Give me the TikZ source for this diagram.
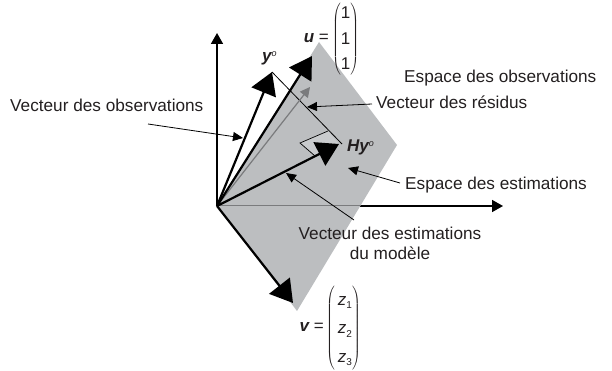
\documentclass[tikz,border=0pt]{standalone}
\usepackage{fontspec}
\setmainfont{Liberation Sans}
\usetikzlibrary{arrows.meta,positioning}
\definecolor{planegray}{HTML}{BCBEC0}
\definecolor{anglegray}{HTML}{C9CBCD}
\definecolor{textgray}{HTML}{231F20}
\newcommand{\vecbold}[1]{{\bfseries\itshape #1}}
\newcommand{\smallup}[1]{\raisebox{5pt}{\fontsize{9}{9}\selectfont\itshape #1}}
\newcommand{\zsub}[1]{\hspace{3pt}{\itshape z}\raisebox{-3.5pt}{\fontsize{10}{10}\selectfont #1}\hspace{2pt}}
\newcommand{\colvec}[4]{$\left(\vcenter{\hbox{\renewcommand{\arraystretch}{#1}\begin{tabular}{@{}c@{}}#2\\#3\\#4\end{tabular}}}\right)$}

\begin{document}
\begin{tikzpicture}[
  x=1pt, y=-1pt,
  lab/.style={inner sep=0pt, text=textgray, font=\fontsize{17.2}{20}\selectfont, align=center},
  sym/.style={inner sep=0pt, text=textgray, font=\fontsize{17}{20}\selectfont},
  axis/.style={-{Triangle[length=11pt, width=12pt]}, line width=1.7pt},
  bigvec/.style={-{Triangle[length=22pt, width=26pt]}, line width=2.2pt},
  note/.style={-{Triangle[length=10pt, width=9pt]}, line width=0.8pt}
]
\useasboundingbox (0,0) rectangle (612,371);

\coordinate (origin) at (217,206);
\coordinate (top) at (319,42);
\coordinate (right) at (397,145);
\coordinate (bottom) at (297,311);
\coordinate (xhit) at (360,206);
\coordinate (xend) at (503,206);
\coordinate (zend) at (217,33);
\coordinate (utip) at (312,56);
\coordinate (vtip) at (293,303);
\coordinate (ytip) at (272,72);
\coordinate (hytip) at (339,144);
\coordinate (gtip) at (310,87);
\coordinate (anglea) at (328,131);
\coordinate (angleb) at (300,143);
\coordinate (anglec) at (315,156);
\coordinate (footend) at (342,144);

% axes first, the plane lies over them
\draw[axis] (origin) -- (zend);
\draw[axis] (origin) -- (xend);
\fill[planegray] (origin) -- (top) -- (right) -- (bottom) -- cycle;
\draw[line width=1pt, black!35!planegray] (origin) -- (xhit);
\fill[anglegray] (anglea) -- (angleb) -- (anglec) -- (hytip) -- cycle;
\draw[line width=0.7pt] (anglea) -- (angleb) -- (anglec);
\draw[line width=0.8pt] (ytip) -- (footend);

% vectors
\draw[-{Triangle[length=10pt, width=10pt]}, line width=1.2pt, black!35!planegray] (origin) -- (gtip);
\draw[bigvec] (origin) -- (ytip);
\draw[bigvec] (origin) -- (utip);
\draw[bigvec] (origin) -- (hytip);
\draw[bigvec] (origin) -- (vtip);

% labels
\node[lab, anchor=west] (obsspace) at (404,78) {Espace des observations};
\node[lab, anchor=west] (residus) at (376,102) {Vecteur des résidus};
\node[lab, anchor=west] (obsvec) at (10,105) {Vecteur des observations};
\node[lab, anchor=west] (estspace) at (405,185) {Espace des estimations};
\node[lab] (estvec) at (390,243) {Vecteur des estimations\\du modèle};
\node[sym, anchor=west] (ylab) at (262,58) {\vecbold{y}\smallup{o}};
\node[sym, anchor=west] (hylab) at (347,147) {\vecbold{Hy}\smallup{o}};
\node[sym, anchor=east] (ulab) at (329,38) {\vecbold{u} =};
\node[sym, anchor=west] (umat) at (332,39) {\colvec{1.27}{1}{1}{1}};
\node[sym, anchor=east] (vlab) at (324,327) {\vecbold{v} =};
\node[sym, anchor=west] (vmat) at (326,328) {\colvec{1.42}{\zsub{1}}{\zsub{2}}{\zsub{3}}};

% pointers
\coordinate (obsstart) at (148,124);
\coordinate (obsend) at (243,138);
\coordinate (resstart) at (372,104);
\coordinate (resend) at (307,107);
\coordinate (eststart) at (400,183);
\coordinate (estend) at (348,168);
\coordinate (vecstart) at (354,220);
\coordinate (vecend) at (286,173);
\draw[note] (obsstart) -- (obsend);
\draw[note] (resstart) -- (resend);
\draw[note] (eststart) -- (estend);
\draw[note] (vecstart) -- (vecend);
\end{tikzpicture}
\end{document}
